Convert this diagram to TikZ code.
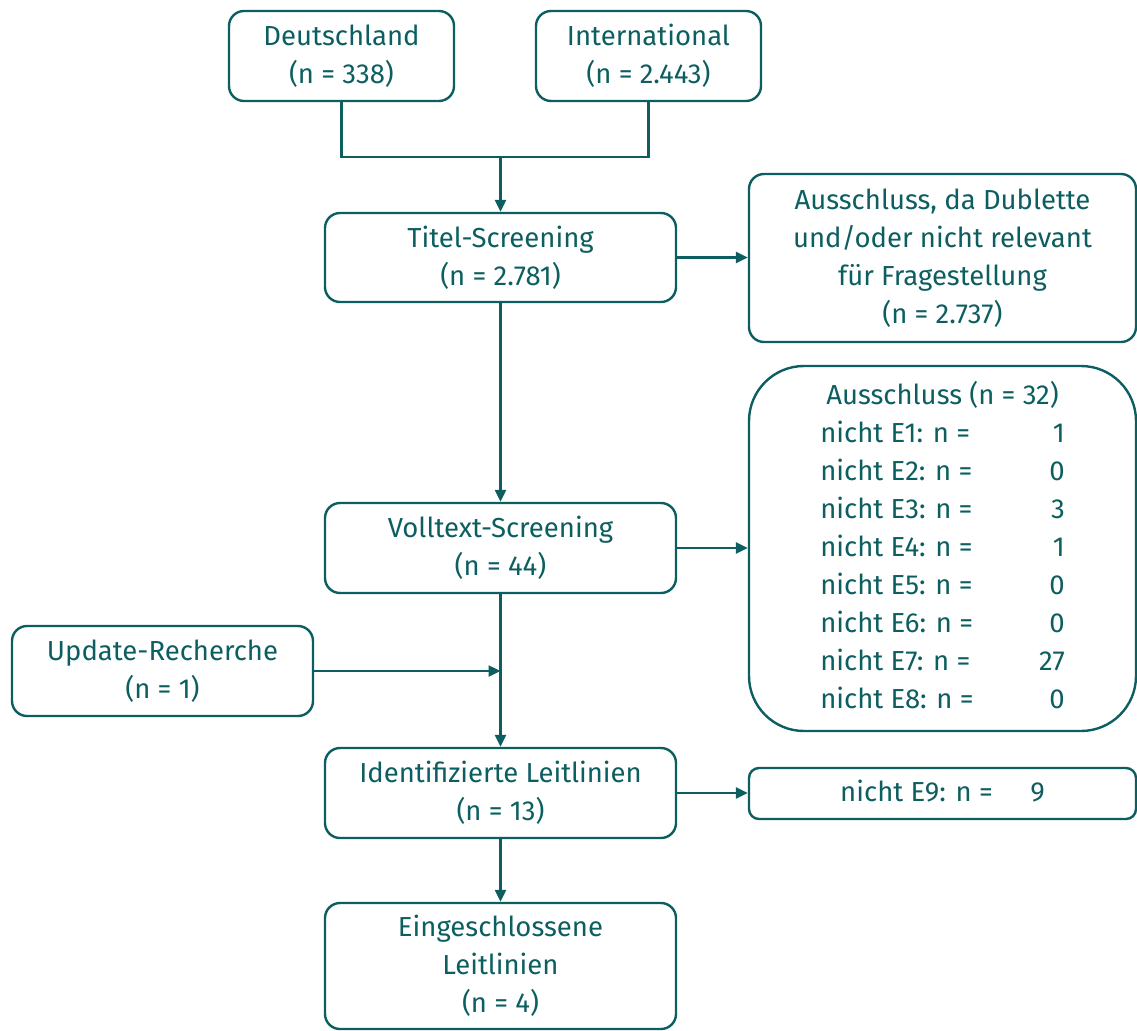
\documentclass[tikz,border=0pt]{standalone}
\usepackage{fontspec}
\setmainfont{Fira Sans}
\usetikzlibrary{arrows.meta}
\definecolor{tealc}{RGB}{12,94,96}
\begin{document}
\begin{tikzpicture}[x=1pt,y=-1pt,
  box/.style={draw=tealc, line width=2.4pt, rounded corners=15pt, text=tealc,
    align=center, inner sep=0pt, font=\fontsize{27.5}{38}\selectfont},
  conn/.style={draw=tealc, line width=2.4pt},
  arr/.style={conn, -{Triangle[length=12pt,width=11pt]}}]
\useasboundingbox (0,0) rectangle (1137,1030);

\node[box, minimum width=225pt, minimum height=90pt] (D) at (341.5,56) {Deutschland\\(n = 338)};
\node[box, minimum width=225pt, minimum height=90pt] (I) at (648.5,56) {International\\(n = 2.443)};
\node[box, minimum width=351pt, minimum height=89pt] (T) at (500.5,257.5) {Titel-Screening\\(n = 2.781)};
\node[box, minimum width=387pt, minimum height=168pt] (A1) at (942.5,258) {Ausschluss, da Dublette\\und/oder nicht relevant\\für Fragestellung\\(n = 2.737)};
\node[box, minimum width=351pt, minimum height=90pt] (V) at (500.5,548) {Volltext-Screening\\(n = 44)};
\node[box, rounded corners=55pt, minimum width=387pt, minimum height=365pt] (A2) at (942.5,548.5) {%
  \begin{tabular}{@{}l@{}r@{}}
  \multicolumn{2}{c}{Ausschluss (n = 32)}\\
  nicht E1: n = & \makebox[52pt][r]{1}\\
  nicht E2: n = & \makebox[52pt][r]{0}\\
  nicht E3: n = & \makebox[52pt][r]{3}\\
  nicht E4: n = & \makebox[52pt][r]{1}\\
  nicht E5: n = & \makebox[52pt][r]{0}\\
  nicht E6: n = & \makebox[52pt][r]{0}\\
  nicht E7: n = & \makebox[52pt][r]{27}\\
  nicht E8: n = & \makebox[52pt][r]{0}
  \end{tabular}};
\node[box, minimum width=301pt, minimum height=90pt] (U) at (162.5,671) {Update-Recherche\\(n = 1)};
\node[box, minimum width=351pt, minimum height=90pt] (L) at (500.5,793) {Identifizierte Leitlinien\\(n = 13)};
\node[box, rounded corners=10pt, minimum width=387pt, minimum height=51pt] (E9) at (942.5,793.5) {%
  \begin{tabular}{@{}l@{}r@{}}nicht E9: n = & \makebox[52pt][r]{9}\end{tabular}};
\node[box, minimum width=351pt, minimum height=126pt] (F) at (500.5,966) {Eingeschlossene\\Leitlinien\\(n = 4)};

\coordinate (j) at (500.5,157);
\draw[conn] (D.south) |- (j) -| (I.south);
\draw[arr] (j) -- (T.north);
\draw[arr] (T.east) -- (A1.west |- T.east);
\draw[arr] (T.south) -- (V.north);
\draw[arr] (V.east) -- (A2.west |- V.east);
\draw[arr] (U.east) -- (U.east -| V.south);
\draw[arr] (V.south) -- (L.north);
\draw[arr] (L.east) -- (E9.west |- L.east);
\draw[arr] (L.south) -- (F.north);
\end{tikzpicture}
\end{document}
